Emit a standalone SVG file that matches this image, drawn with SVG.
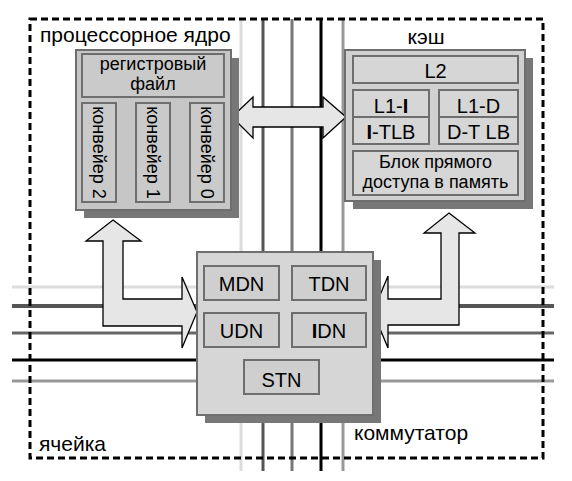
<svg xmlns="http://www.w3.org/2000/svg" width="572" height="481" viewBox="0 0 572 481">
<style>
text{font-family:"Liberation Sans",Arial,sans-serif;fill:#000}
.lbl{font-size:21px}
.t18{font-size:18px;text-anchor:middle}
.t20{font-size:20px;text-anchor:middle}
.shadow{fill:#777}
.outer{stroke:#6e6e6e;stroke-width:2}
.inner{stroke:#6e6e6e;stroke-width:2}
.arrow{fill:#e6e6e6;stroke:#000;stroke-width:1.3;stroke-linejoin:miter}
.b{font-weight:bold}
</style>
<rect width="572" height="481" fill="#fff"/>
<g id="bus-lines" fill="none">
  <line x1="241" y1="19" x2="241" y2="471" stroke="#dcdcdc" stroke-width="3"/>
  <line x1="263" y1="19" x2="263" y2="471" stroke="#555" stroke-width="3"/>
  <line x1="292" y1="19" x2="292" y2="471" stroke="#777" stroke-width="3"/>
  <line x1="321" y1="19" x2="321" y2="471" stroke="#000" stroke-width="3"/>
  <line x1="343" y1="19" x2="343" y2="471" stroke="#999" stroke-width="3"/>
  <line x1="12" y1="287" x2="554" y2="287" stroke="#dcdcdc" stroke-width="3"/>
  <line x1="12" y1="306" x2="554" y2="306" stroke="#555" stroke-width="4"/>
  <line x1="12" y1="333" x2="554" y2="333" stroke="#666" stroke-width="3"/>
  <line x1="12" y1="360" x2="554" y2="360" stroke="#000" stroke-width="3"/>
  <line x1="12" y1="381" x2="554" y2="381" stroke="#999" stroke-width="3"/>
</g>
<rect id="cell" x="30" y="19" width="513" height="439" fill="none" stroke="#000" stroke-width="3" stroke-dasharray="7 4"/>
<g id="connectors">
  <polygon class="arrow" points="232,117 253,97 253,107 323,107 323,97 346,117 323,138 323,127 253,127 253,138"/>
  <polygon class="arrow" points="113,220 141,241 123,241 123,299 182,299 182,277 197,312 182,348 182,326 103,326 103,241 86,241"/>
  <polygon class="arrow" points="449,213 475,233 459,233 459,325 388,325 388,348 373,312 388,276 388,299 441,299 441,233 424,233"/>
</g>
<g id="core">
  <rect class="shadow" x="84" y="58" width="155" height="160"/>
  <rect class="outer" x="76" y="50" width="155" height="160" fill="#c6c6c6"/>
  <g id="regfile">
    <rect class="inner" x="82" y="54" width="142" height="43" fill="#cacaca"/>
    <text class="t18" x="153" y="70">регистровый</text>
    <text class="t18" x="153" y="90">файл</text>
  </g>
  <g id="pipe2">
    <rect class="inner" x="82" y="103" width="34" height="99" fill="#cacaca"/>
    <text class="t18" transform="translate(99,152.5) rotate(90)" y="6">конвейер 2</text>
  </g>
  <g id="pipe1">
    <rect class="inner" x="136" y="103" width="34" height="99" fill="#cacaca"/>
    <text class="t18" transform="translate(153,152.5) rotate(90)" y="6">конвейер 1</text>
  </g>
  <g id="pipe0">
    <rect class="inner" x="190" y="103" width="34" height="99" fill="#cacaca"/>
    <text class="t18" transform="translate(207,152.5) rotate(90)" y="6">конвейер 0</text>
  </g>
</g>
<g id="cache">
  <rect class="shadow" x="353" y="58" width="180" height="151"/>
  <rect class="outer" x="345" y="50" width="180" height="151" fill="#d0d0d0"/>
  <g id="l2">
    <rect class="inner" x="353" y="56" width="165" height="27" fill="#d6d6d6"/>
    <text class="t20" x="435.5" y="78">L2</text>
  </g>
  <g id="l1i">
    <rect class="inner" x="353" y="90" width="76" height="27" fill="#d6d6d6"/>
    <text class="t20" x="391" y="113">L1-<tspan class="b">I</tspan></text>
  </g>
  <g id="itlb">
    <rect class="inner" x="353" y="117" width="76" height="27" fill="#d6d6d6"/>
    <text class="t20" x="391" y="139"><tspan class="b">I</tspan>-TLB</text>
  </g>
  <g id="l1d">
    <rect class="inner" x="439" y="90" width="79" height="27" fill="#d6d6d6"/>
    <text class="t20" x="478.5" y="113">L1-D</text>
  </g>
  <g id="dtlb">
    <rect class="inner" x="439" y="117" width="79" height="27" fill="#d6d6d6"/>
    <text class="t20" x="478.5" y="139">D-T LB</text>
  </g>
  <g id="dma">
    <rect class="inner" x="353" y="151" width="165" height="44" fill="#d6d6d6"/>
    <text class="t18" x="435.5" y="168">Блок прямого</text>
    <text class="t18" x="435.5" y="188">доступа в память</text>
  </g>
</g>
<g id="switch">
  <rect class="shadow" x="205" y="260" width="176" height="163"/>
  <rect class="outer" x="197" y="252" width="176" height="163" fill="#d6d6d6"/>
  <g id="mdn">
    <rect class="inner" x="204" y="266" width="75" height="34" fill="#cfcfcf"/>
    <text class="t20" x="241.5" y="291">MDN</text>
  </g>
  <g id="tdn">
    <rect class="inner" x="292" y="266" width="74" height="34" fill="#cfcfcf"/>
    <text class="t20" x="329" y="291">TDN</text>
  </g>
  <g id="udn">
    <rect class="inner" x="204" y="313" width="75" height="34" fill="#cfcfcf"/>
    <text class="t20" x="241.5" y="338">UDN</text>
  </g>
  <g id="idn">
    <rect class="inner" x="292" y="313" width="74" height="34" fill="#cfcfcf"/>
    <text class="t20" x="329" y="338"><tspan class="b">I</tspan>DN</text>
  </g>
  <g id="stn">
    <rect class="inner" x="244" y="360" width="75" height="34" fill="#cfcfcf"/>
    <text class="t20" x="281.5" y="387">STN</text>
  </g>
</g>
<g id="labels">
  <text class="lbl" x="40" y="42">процессорное ядро</text>
  <text class="lbl" x="426" y="44" text-anchor="middle">кэш</text>
  <text class="lbl" x="39" y="451">ячейка</text>
  <text class="lbl" x="354" y="440">коммутатор</text>
</g>
</svg>
